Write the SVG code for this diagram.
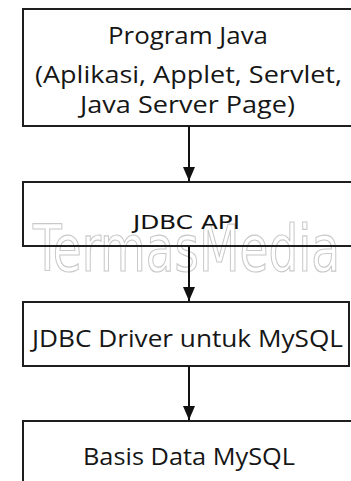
<svg xmlns="http://www.w3.org/2000/svg" width="351" height="481" viewBox="0 0 351 481">
  <style>
    .box { fill: none; stroke: #1e1e1e; stroke-width: 2; }
    .lbl { font-family: "Open Sans", "Noto Sans", sans-serif; font-size: 23.5px; fill: #161616; text-anchor: middle; }
    .api { font-family: "DejaVu Sans", "Noto Sans", sans-serif; font-size: 19px; fill: #111111; text-anchor: middle; }
    .conn { stroke: #111111; stroke-width: 2; fill: none; }
    .wm { font-family: "Liberation Sans Narrow", "DejaVu Sans Condensed", "Liberation Sans", sans-serif; font-size: 64px; fill: #ffffff; stroke: #c9c9c9; stroke-width: 1.2; }
  </style>
  <defs>
    <marker id="arrow" viewBox="0 0 14 12" refX="14" refY="6" markerWidth="14" markerHeight="12" markerUnits="userSpaceOnUse" orient="auto">
      <path d="M0,0 L14,6 L0,12 Z" fill="#111111"/>
    </marker>
  </defs>
  <rect width="351" height="481" fill="#ffffff"/>

  <text class="wm" x="33" y="271" textLength="307" lengthAdjust="spacingAndGlyphs">TermasMedia</text>

  <g id="node-program-java">
    <rect class="box" x="23" y="9" width="340" height="117"/>
    <text class="lbl" x="188" y="44" textLength="160" lengthAdjust="spacingAndGlyphs">Program Java</text>
    <text class="lbl" x="188.5" y="83" textLength="307" lengthAdjust="spacingAndGlyphs">(Aplikasi, Applet, Servlet,</text>
    <text class="lbl" x="187.5" y="113" textLength="215" lengthAdjust="spacingAndGlyphs">Java Server Page)</text>
  </g>

  <g id="node-jdbc-api">
    <rect class="box" x="23" y="182" width="340" height="64"/>
    <text class="api" x="186.5" y="229" textLength="107" lengthAdjust="spacingAndGlyphs">JDBC API</text>
  </g>

  <g id="node-jdbc-driver">
    <rect class="box" x="23" y="302" width="326" height="64"/>
    <text class="lbl" x="187.5" y="347" textLength="311" lengthAdjust="spacingAndGlyphs">JDBC Driver untuk MySQL</text>
  </g>

  <g id="node-basis-data">
    <rect class="box" x="23" y="421" width="340" height="80"/>
    <text class="lbl" x="189" y="465" textLength="212" lengthAdjust="spacingAndGlyphs">Basis Data MySQL</text>
  </g>

  <g id="connectors">
    <line class="conn" x1="189" y1="126" x2="189" y2="181" marker-end="url(#arrow)"/>
    <line class="conn" x1="189" y1="246" x2="189" y2="301" marker-end="url(#arrow)"/>
    <line class="conn" x1="189" y1="366" x2="189" y2="420" marker-end="url(#arrow)"/>
  </g>
</svg>
